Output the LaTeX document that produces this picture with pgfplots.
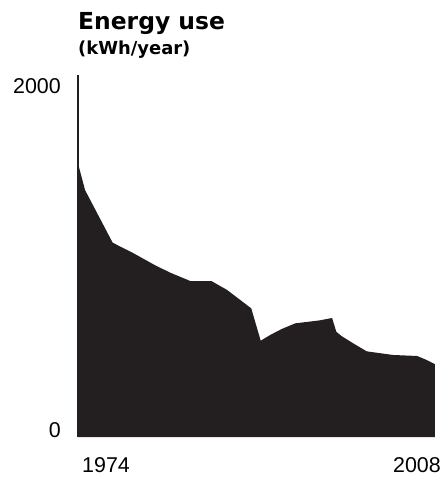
\documentclass[border=0pt]{standalone}
\usepackage{fontspec}
\setmainfont{Liberation Sans}
\newfontfamily\headfont{DejaVu Sans}
\usepackage{pgfplots}
\pgfplotsset{compat=1.18}
\definecolor{inkblack}{HTML}{231F20}

\begin{document}
\begin{tikzpicture}
\path[use as bounding box] (-78bp,-45bp) rectangle (366bp,437bp);
\begin{axis}[
    at={(0,0)}, anchor=south west,
    scale only axis,
    width=357bp, height=362bp,
    xmin=1974, xmax=2008,
    ymin=0, ymax=2105,
    axis lines*=left,
    x axis line style={draw=none},
    y axis line style={line width=2bp, color=inkblack},
    tick style={draw=none},
    /pgf/number format/assume math mode=true,
    /pgf/number format/1000 sep={},
    ytick={0,2000},
    yticklabel style={anchor=base east, inner sep=0pt, xshift=-17bp, font=\fontsize{21.5}{21.5}\selectfont},
    xtick={1974},
    xticklabel style={anchor=base west, inner sep=0pt, xshift=4bp, yshift=-35bp, font=\fontsize{21.5}{21.5}\selectfont},
    extra x ticks={2008},
    extra x tick style={xticklabel style={anchor=base east, xshift=2bp}},
    clip=false,
]
% energy use, kWh per year
\addplot[fill=inkblack, draw=none] coordinates {
    (1974.0,1591) (1974.67,1436) (1977.3,1130) (1979.3,1068) (1981.3,1000)
    (1982.8,955) (1984.7,907) (1986.7,907) (1988.2,855) (1990.5,748)
    (1991.4,560) (1992.3,593) (1993.4,628) (1994.7,661) (1997.0,678)
    (1998.2,692) (1998.6,612) (1999.1,587) (2000.2,545) (2001.5,498)
    (2004.0,477) (2006.3,471) (2007.2,448) (2008.0,423)
} \closedcycle;

\node[anchor=base west, inner sep=0pt, font=\headfont\bfseries\fontsize{23.5}{23.5}\selectfont]
    at (rel axis cs:0,1) [yshift=45bp] {Energy use};
\node[anchor=base west, inner sep=0pt, font=\headfont\bfseries\fontsize{18}{18}\selectfont]
    at (rel axis cs:0,1) [yshift=20bp] {(kWh/year)};
\end{axis}
\end{tikzpicture}
\end{document}
